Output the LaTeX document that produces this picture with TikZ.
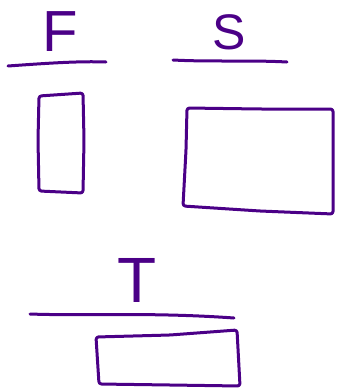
\documentclass[tikz,border=0pt]{standalone}
\usepackage{fontspec}
\setmainfont{Liberation Sans}
\definecolor{ink}{RGB}{75,0,135}
\begin{document}
\begin{tikzpicture}[x=1pt,y=-1pt,
  pen/.style={draw=ink,line width=3pt,line cap=round,line join=round},
  boxpen/.style={pen,rounded corners=2.5pt},
  letter/.style={text=ink,inner sep=0pt,anchor=base,font=\fontsize{58}{58}\selectfont}]
\useasboundingbox (0,0) rectangle (338,389);
% letters
\node[letter] (f) at (60,51) {F};
\node[letter,font=\fontsize{50}{50}\selectfont] (s) at (229,49) {S};
\node[letter,font=\fontsize{64}{64}\selectfont] (t) at (137,302) {T};
% underlines
\draw[pen] (8,66) .. controls (50,63) and (80,61) .. (106,62);
\draw[pen] (173,60) .. controls (210,62) and (250,60) .. (287,62);
\draw[pen] (30,314) .. controls (80,316) and (150,312) .. (234,318);
% boxes
\draw[boxpen] (39,96) -- (83,93) -- (84,140) -- (83,193) -- (39,191) -- (38,140) -- cycle;
\draw[boxpen] (187,108) -- (260,109) -- (333,109) -- (333,214) -- (260,211) -- (183,206) -- (186,150) -- cycle;
\draw[boxpen] (96,337) -- (170,335) -- (237,330) -- (240,386) -- (170,385) -- (99,384) -- cycle;
\end{tikzpicture}
\end{document}
